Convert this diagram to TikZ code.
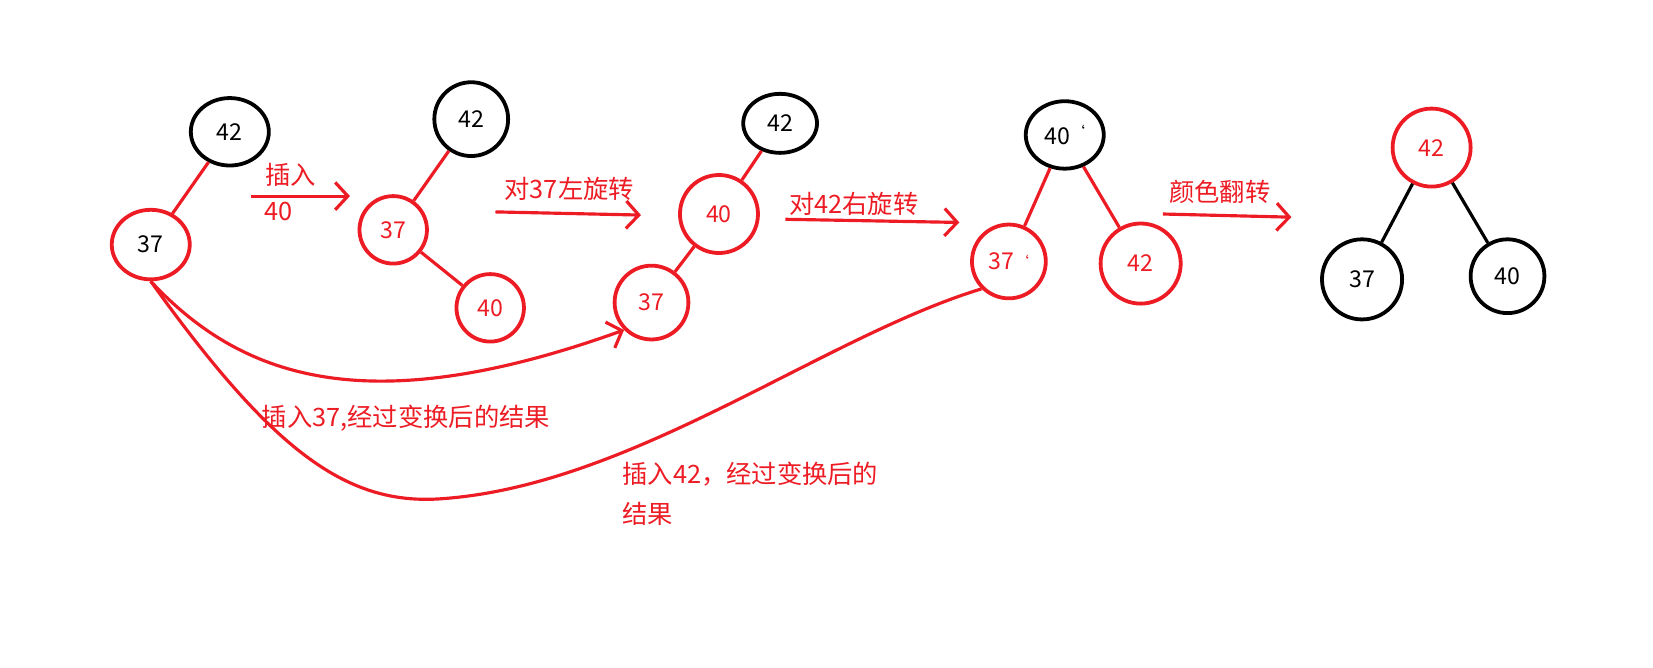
\documentclass[tikz,border=0pt]{standalone}
\usepackage{fontspec}
\setmainfont{Noto Sans CJK SC}
\usetikzlibrary{arrows.meta,shapes.geometric}
\definecolor{rd}{RGB}{237,28,36}
\begin{document}
\begin{tikzpicture}[x=0.5pt,y=-0.5pt,
  nd/.style={ellipse,draw,line width=1.8pt,inner sep=0pt,font=\fontsize{11}{12}\selectfont},
  rn/.style={nd,draw=rd},
  bn/.style={nd,draw=black},
  ln/.style={line width=1.5pt},
  ar/.style={rd,line width=1.5pt,-{Straight Barb[length=6pt,width=13pt,line width=1.5pt]}},
  lb/.style={text=rd,font=\fontsize{12}{14}\selectfont,inner sep=0pt}]
\useasboundingbox (0,0) rectangle (1568,633);
\tikzset{circ/.style args={#1/#2}{minimum width=#1*0.5pt,minimum height=#2*0.5pt}}
\node[bn,circ=74/64] (a42) at (218,125) {42};
\node[rn,circ=74/66] (a37) at (143,232) {37};
\node[bn,circ=70/70] (b42) at (447,113) {42};
\node[rn,circ=64/64,text=rd] (b37) at (373,218) {37};
\node[rn,circ=64/64,text=rd] (b40) at (465,292) {40};
\node[bn,circ=70/56] (c42) at (740,117) {42};
\node[rn,circ=74/74,text=rd] (c40) at (682,203) {40};
\node[rn,circ=70/70,text=rd] (c37) at (618,287) {37};
\node[bn,circ=74/64] (d40) at (1010,128) {40\raisebox{3pt}{\fontsize{7}{7}\selectfont `}};
\node[rn,circ=70/70,text=rd] (d37) at (957,248) {37\raisebox{1pt}{\fontsize{7}{7}\selectfont `}};
\node[rn,circ=76/76,text=rd] (d42) at (1082,250) {42};
\node[rn,circ=74/74,text=rd] (e42) at (1358,140) {42};
\node[bn,circ=76/76] (e37) at (1292,265) {37};
\node[bn,circ=70/70] (e40) at (1430,262) {40};
\draw[ln,rd] (a42) -- (a37);
\draw[ln,rd] (b42) -- (b37);
\draw[ln,rd] (b37) -- (b40);
\draw[ln,rd] (c42) -- (c40);
\draw[ln,rd] (c40) -- (c37);
\draw[ln,rd] (d40) -- (d37);
\draw[ln,rd] (d40) -- (d42);
\draw[ln] (e42) -- (e37);
\draw[ln] (e42) -- (e40);
\coordinate (p1) at (238,186); \coordinate (q1) at (332,186);
\coordinate (p2) at (470,201); \coordinate (q2) at (608,204);
\coordinate (p3) at (745,208); \coordinate (q3) at (910,211);
\coordinate (p4) at (1103,203); \coordinate (q4) at (1225,206);
\draw[ar] (p1) -- (q1);
\draw[ar] (p2) -- (q2);
\draw[ar] (p3) -- (q3);
\draw[ar] (p4) -- (q4);
\node[lb] (t1) at (276,166) {插入};
\node[lb] (t1b) at (264,201) {40};
\node[lb] (t2) at (540,179) {对37左旋转};
\node[lb] (t3) at (810,193) {对42右旋转};
\node[lb] (t4) at (1157,182) {颜色翻转};
\draw[ar] (a37.south) .. controls (230,360) and (350,400) .. (c37.south west);
\draw[ln,rd] (a37.south) .. controls (260,430) and (330,480) .. (420,473) .. controls (600,460) and (780,320) .. (d37.south west);
\node[lb,anchor=west] (t5) at (248,397) {插入37,经过变换后的结果};
\node[lb,anchor=west] (t6) at (590,450) {插入42，经过变换后的};
\node[lb,anchor=west] (t7) at (590,487) {结果};
\end{tikzpicture}
\end{document}
